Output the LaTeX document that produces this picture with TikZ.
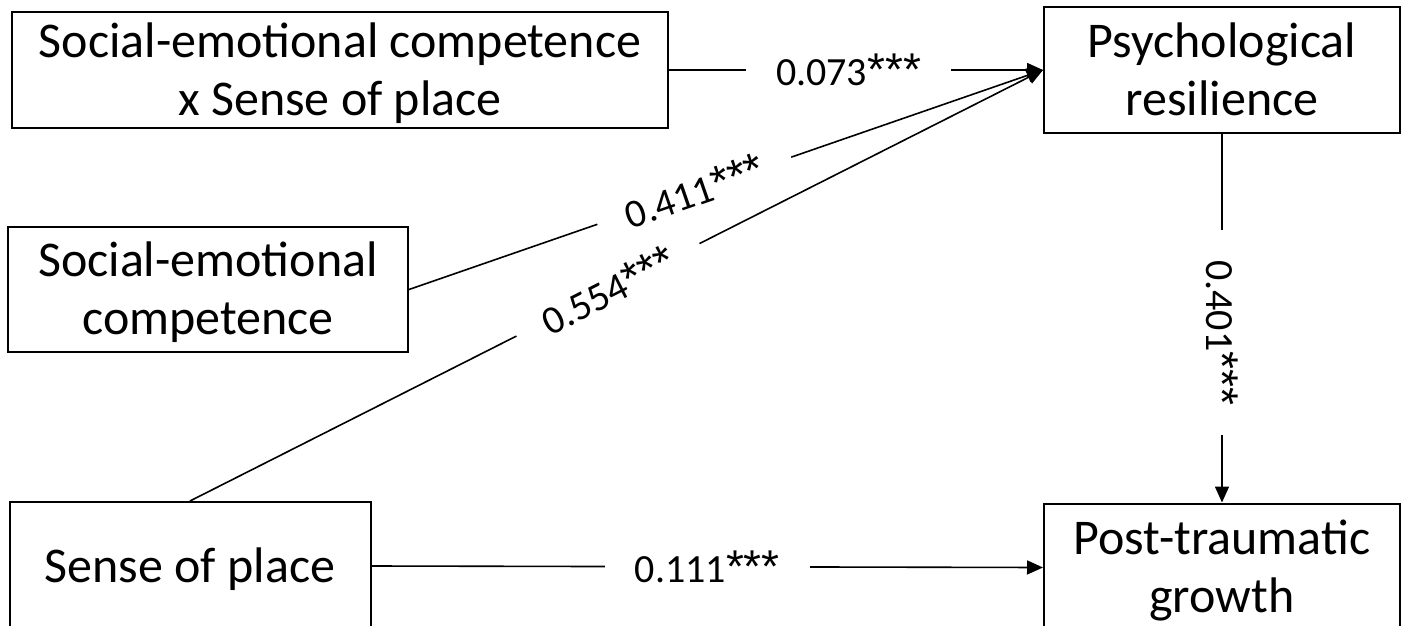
\documentclass[tikz,border=0pt]{standalone}
\usepackage{fontspec}
\setmainfont{Carlito}
\newfontfamily\starfont{Liberation Sans}
\usetikzlibrary{arrows.meta, positioning}

\newcommand{\sigstars}{{\starfont\fontsize{46}{48}\selectfont ***}}

\begin{document}
\begin{tikzpicture}[x=1pt, y=-1pt,
    var/.style={rectangle, draw=black, line width=2pt, align=center, inner sep=0pt, text depth=2pt, font=\fontsize{50}{58}\selectfont},
    coef/.style={fill=white, inner xsep=30pt, inner ysep=2pt, font=\fontsize{40}{48}\selectfont},
    arr/.style={-{Triangle[length=16pt, width=14pt]}, line width=1.6pt}
]
\useasboundingbox (0,0) rectangle (1409,626);
\node[var, minimum width=656pt, minimum height=116pt] (inter) at (340,70) {Social-emotional competence\\x Sense of place};
\node[var, minimum width=356pt, minimum height=125pt, right=374pt of inter] (resil) {Psychological\\resilience};
\node[var, minimum width=356pt, minimum height=128pt, below=369pt of resil] (growth) {Post-traumatic\\growth};
\node[var, minimum width=400pt, minimum height=125pt] (sec) at (208,289.5) {Social-emotional\\competence};
\node[var, minimum width=361pt, minimum height=128pt] (place) at (190,566) {Sense of place};

\draw[arr] (inter.east) -- node[coef, pos=0.48] (c1) {0.073\sigstars} (resil.west);
\draw[arr] (sec.east) -- node[coef, sloped, pos=0.45] (c2) {0.411\sigstars} (resil.west);
\draw[arr] (place.north) -- node[coef, sloped, pos=0.49] (c3) {0.554\sigstars} (resil.west);
\draw[arr] (resil) -- node[coef, rotate=-90, pos=0.54] (c4) {0.401\sigstars} (growth);
\draw[arr] (place.east) -- node[coef, pos=0.5] (c5) {0.111\sigstars} (growth.west);
\end{tikzpicture}
\end{document}
